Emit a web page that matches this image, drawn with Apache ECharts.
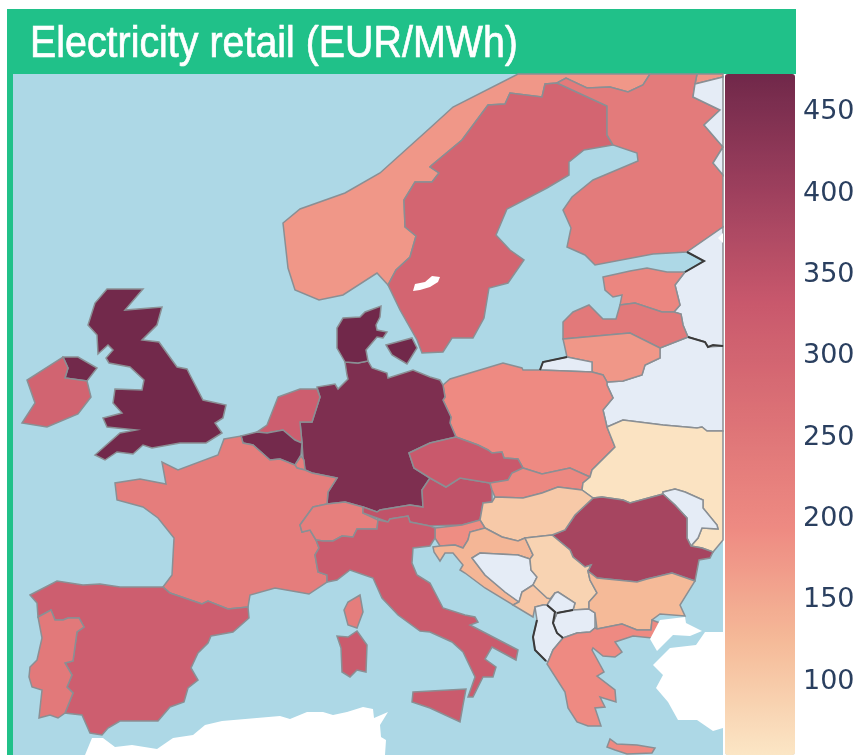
<!DOCTYPE html>
<html>
<head>
<meta charset="utf-8">
<title>Electricity retail (EUR/MWh)</title>
<script src="https://cdn.jsdelivr.net/npm/echarts@6/dist/echarts.min.js"></script>
<style>
  html, body { margin: 0; padding: 0; background: #fff; }
  #chart { width: 859px; height: 755px; }
</style>
</head>
<body>
<div id="chart"></div>
<script>
const countryNames = ["Norway","Sweden","Finland","Estonia","Latvia","Lithuania","Poland","Germany","Denmark","UK","Ireland","Netherlands","Belgium","Luxembourg","France","Switzerland","Austria","Czechia","Slovakia","Ukraine","Romania","Hungary","Slovenia","Italy","Spain","Portugal","Croatia","Serbia","Montenegro","Bulgaria","Greece"];
const countryValues = [175,295,235,205,240,175,195,449,470,468,300,315,465,225,230,225,345,330,200,60,386,100,190,325,315,240,130,85,105,125,195];
const noDataNames = ["Russia","Belarus","Kaliningrad","Moldova","Bosnia","Kosovo","North Macedonia","Albania"];
const blankLandNames = ["Vanern","Turkey","Africa","EdgeNotch"];
const tickValues = [100,150,200,250,300,350,400,450];
const scaleMin = 55;
const scaleMax = 471;
const burgyl = ["#fbe6c5","#f5ba98","#ee8a82","#dc7176","#c8586c","#9c3f5d","#70284a"];

// map outlines in page pixels
const outlines = {
  Norway: [
    [[283,223],[300,209],[345,193],[380,173],[430,128],[453,107],[518,74],[650,74],[643,85],[628,92],[610,87],[587,88],[566,78],[557,83],[545,84],[542,97],[510,93],[505,104],[488,105],[462,140],[432,165],[430,167],[439,173],[432,182],[415,182],[404,200],[405,227],[416,236],[410,257],[396,270],[388,285],[377,273],[343,295],[319,300],[295,290],[288,268]],
    [[697,74],[723,74],[723,77],[695,84]]
  ],
  Sweden: [[[388,285],[396,270],[410,257],[416,236],[405,227],[404,200],[415,182],[432,182],[439,173],[430,167],[432,165],[462,140],[488,105],[505,104],[510,93],[542,97],[545,84],[557,83],[607,106],[607,135],[613,145],[584,150],[569,162],[569,175],[547,188],[507,209],[496,235],[510,250],[524,260],[508,283],[489,288],[484,318],[473,338],[452,338],[443,352],[422,353],[417,340],[400,310]]],
  Vanern: [[[413,291],[415,284],[425,282],[432,276],[440,277],[438,282],[430,287],[420,290]]],
  Finland: [[[557,83],[566,78],[587,88],[610,87],[628,92],[643,85],[650,74],[697,74],[695,84],[693,97],[720,110],[704,125],[723,147],[713,163],[723,175],[723,227],[687,252],[653,254],[595,265],[585,255],[567,247],[571,228],[563,210],[572,197],[593,180],[638,161],[637,153],[613,145],[607,135],[607,106]]],
  Russia: [
    [[695,84],[723,77],[723,175],[713,163],[723,147],[704,125],[720,110],[693,97]],
    [[723,227],[687,252],[704,261],[685,272],[675,285],[680,305],[674,312],[681,314],[683,325],[688,337],[705,342],[708,347],[723,346]]
  ],
  EdgeNotch: [[[718,238],[723,233],[723,243]]],
  Belarus: [[[660,348],[660,358],[645,365],[642,375],[623,381],[607,382],[607,385],[613,398],[603,410],[607,427],[623,420],[663,425],[697,428],[702,427],[707,431],[723,431],[723,346],[708,347],[705,342],[688,337]]],
  Estonia: [[[603,277],[630,271],[647,268],[667,272],[685,272],[675,285],[680,305],[674,312],[662,312],[635,303],[620,305],[622,295],[613,297],[605,290]]],
  Latvia: [[[563,339],[563,322],[573,312],[589,305],[603,319],[616,319],[620,305],[635,303],[662,312],[674,312],[681,314],[683,325],[688,337],[660,348],[630,333]]],
  Lithuania: [[[563,339],[630,333],[660,348],[660,358],[645,365],[642,375],[623,381],[607,382],[603,375],[592,372],[592,362],[567,357]]],
  Kaliningrad: [[[540,370],[543,362],[567,357],[592,362],[592,372]]],
  Poland: [[[443,385],[445,397],[443,400],[451,417],[450,423],[456,437],[478,445],[488,450],[492,453],[502,452],[504,458],[518,459],[523,468],[542,474],[570,468],[590,477],[592,470],[615,447],[607,427],[603,410],[613,398],[607,385],[607,382],[603,375],[592,372],[540,370],[523,370],[522,368],[503,363],[450,379]]],
  Germany: [[[345,362],[358,363],[368,361],[372,368],[387,373],[388,378],[413,370],[430,377],[440,380],[443,385],[445,397],[443,400],[451,417],[450,423],[456,437],[430,443],[409,453],[414,468],[430,478],[422,490],[423,507],[410,505],[380,510],[377,512],[363,507],[345,502],[327,504],[328,492],[337,478],[312,473],[305,470],[303,457],[302,443],[300,422],[312,422],[320,397],[317,387],[335,384],[338,389],[348,379],[347,375]]],
  Denmark: [
    [[345,362],[337,348],[337,328],[343,318],[360,317],[365,312],[381,306],[380,317],[376,325],[377,330],[387,332],[383,338],[377,337],[366,350],[368,361],[358,363]],
    [[386,345],[412,338],[417,348],[407,364],[392,355]]
  ],
  UK: [
    [[107,289],[143,289],[125,310],[162,307],[157,325],[142,340],[159,342],[177,367],[187,369],[190,375],[203,400],[226,405],[223,418],[215,423],[222,433],[206,443],[180,443],[152,448],[143,445],[133,454],[117,452],[105,460],[95,455],[120,433],[136,430],[107,427],[103,418],[122,413],[113,403],[115,389],[142,390],[144,380],[130,367],[109,363],[106,358],[113,350],[108,345],[98,354],[97,335],[88,325],[95,303]],
    [[63,357],[78,357],[97,368],[87,381],[65,378],[68,368]]
  ],
  Ireland: [[[63,357],[68,368],[65,378],[87,381],[91,397],[78,414],[47,427],[22,423],[35,403],[27,380]]],
  Netherlands: [[[278,397],[300,389],[317,389],[320,397],[312,422],[300,422],[302,443],[295,440],[283,430],[267,433],[257,432],[267,425]]],
  Belgium: [[[241,436],[257,432],[267,433],[283,430],[295,440],[302,443],[301,455],[295,465],[280,459],[270,460],[253,445],[243,443]]],
  Luxembourg: [[[301,456],[304,460],[305,470],[297,468],[295,465]]],
  France: [
    [[224,439],[241,436],[243,443],[253,445],[270,460],[280,459],[295,465],[297,468],[305,470],[312,473],[337,478],[328,492],[327,504],[313,507],[300,525],[302,532],[310,530],[316,540],[319,548],[315,555],[318,572],[327,575],[327,582],[309,594],[275,588],[250,595],[248,607],[228,609],[208,601],[202,604],[170,593],[163,587],[172,575],[174,538],[158,518],[143,507],[117,500],[115,483],[140,479],[166,484],[162,462],[178,470],[218,455]],
    [[360,595],[363,612],[357,628],[348,625],[344,610],[348,602]]
  ],
  Switzerland: [[[327,504],[345,502],[363,507],[363,513],[378,520],[377,529],[357,529],[353,537],[342,536],[333,541],[323,541],[316,540],[310,530],[302,532],[300,525],[313,507]]],
  Austria: [[[363,507],[377,512],[380,510],[410,505],[423,507],[422,490],[430,478],[446,487],[460,478],[490,483],[492,490],[492,502],[483,503],[480,520],[462,525],[430,526],[410,522],[408,516],[390,519],[388,522],[377,518],[363,513]]],
  Czechia: [[[456,437],[478,445],[488,450],[492,453],[502,452],[504,458],[518,459],[523,468],[512,473],[508,480],[490,483],[460,478],[446,487],[430,478],[414,468],[409,453],[430,443]]],
  Slovakia: [[[523,468],[542,474],[570,468],[590,477],[583,483],[582,490],[558,487],[542,493],[523,498],[495,497],[492,490],[490,483],[508,480],[512,473]]],
  Ukraine: [[[607,427],[623,420],[663,425],[697,428],[702,427],[707,431],[723,431],[723,540],[713,552],[702,548],[691,546],[698,538],[702,528],[718,529],[717,525],[703,508],[703,500],[685,492],[675,489],[663,492],[663,494],[652,497],[630,503],[623,500],[602,497],[593,498],[582,490],[583,483],[590,477],[592,470],[615,447]]],
  Moldova: [[[663,492],[675,489],[685,492],[703,500],[703,508],[717,525],[718,529],[702,528],[698,538],[691,546],[687,538],[687,518],[675,505],[663,494]]],
  Romania: [[[552,535],[565,530],[575,515],[593,498],[602,497],[623,500],[630,503],[652,497],[663,494],[675,505],[687,518],[687,538],[691,546],[702,548],[713,552],[710,558],[699,560],[695,581],[672,573],[647,579],[637,582],[597,578],[588,571],[591,565],[585,567],[573,557],[570,550]]],
  Hungary: [[[480,520],[483,503],[492,502],[495,497],[523,498],[542,493],[558,487],[582,490],[593,498],[575,515],[565,530],[552,535],[525,538],[518,541],[502,537],[485,528]]],
  Slovenia: [[[435,528],[462,525],[480,520],[485,528],[470,532],[468,540],[463,548],[455,545],[440,546],[435,538]]],
  Italy: [
    [[316,540],[323,541],[333,541],[342,536],[353,537],[357,529],[377,529],[378,520],[388,522],[390,519],[408,516],[410,522],[430,526],[435,528],[435,538],[430,546],[413,548],[412,563],[417,575],[430,583],[443,608],[465,615],[475,617],[478,622],[470,625],[518,650],[516,660],[492,647],[485,659],[496,667],[493,677],[483,677],[473,697],[468,697],[475,677],[463,652],[452,642],[430,632],[420,631],[398,615],[382,598],[373,578],[350,570],[337,580],[327,582],[327,575],[318,572],[315,555],[319,548]],
    [[413,692],[466,689],[463,705],[460,722],[430,708],[412,702]],
    [[357,631],[367,645],[366,672],[357,670],[350,677],[342,672],[341,648],[337,636],[348,637]]
  ],
  Spain: [[[30,595],[57,581],[83,585],[100,584],[120,587],[163,587],[170,593],[202,604],[208,601],[228,609],[248,607],[249,618],[233,632],[211,636],[208,643],[198,653],[191,668],[198,680],[188,688],[184,702],[170,707],[158,721],[120,721],[108,728],[102,735],[90,733],[82,715],[65,713],[73,693],[67,687],[72,675],[65,663],[73,661],[77,632],[84,627],[79,618],[68,618],[63,620],[55,620],[51,610],[38,617],[37,603]]],
  Portugal: [[[38,617],[51,610],[55,620],[63,620],[68,618],[79,618],[84,627],[77,632],[73,661],[65,663],[72,675],[67,687],[73,693],[65,713],[58,718],[50,715],[39,718],[42,690],[32,687],[29,677],[30,667],[37,660],[42,638]]],
  Croatia: [[[485,528],[502,537],[518,541],[525,538],[533,555],[530,559],[518,555],[498,554],[480,553],[472,558],[485,575],[505,592],[519,602],[513,605],[485,588],[465,573],[460,570],[463,565],[453,553],[445,553],[440,561],[434,552],[433,547],[440,546],[455,545],[463,548],[468,540],[470,532]]],
  Bosnia: [[[472,558],[480,553],[498,554],[518,555],[530,559],[531,570],[537,577],[533,585],[522,592],[519,602],[505,592],[485,575]]],
  Serbia: [[[525,538],[552,535],[570,550],[573,557],[585,567],[591,565],[588,571],[590,580],[597,593],[589,602],[589,609],[573,610],[575,603],[558,592],[555,593],[547,603],[533,585],[537,577],[531,570],[530,559],[533,555]]],
  Montenegro: [[[533,585],[547,598],[551,599],[547,605],[543,605],[535,607],[533,617],[513,605],[519,602],[522,592]]],
  Kosovo: [[[558,592],[575,603],[573,610],[557,613],[555,612],[547,605],[551,599],[555,593]]],
  "North Macedonia": [[[557,613],[573,610],[589,609],[595,613],[595,628],[590,632],[577,633],[563,638],[557,633],[553,623]]],
  Albania: [[[535,607],[543,605],[547,605],[555,612],[557,613],[553,623],[557,633],[563,638],[553,650],[548,662],[546,661],[535,650],[533,637],[537,620]]],
  Bulgaria: [[[588,571],[597,578],[637,582],[647,579],[672,573],[695,581],[680,605],[685,616],[660,614],[652,620],[651,630],[637,630],[622,624],[597,629],[595,613],[589,609],[589,602],[597,593],[590,580]]],
  Greece: [
    [[597,629],[622,624],[637,630],[651,630],[652,620],[660,623],[652,638],[633,636],[615,642],[622,652],[615,657],[603,656],[593,648],[592,650],[604,672],[597,676],[615,690],[616,702],[600,697],[605,707],[595,708],[601,726],[588,726],[577,722],[568,708],[565,692],[547,664],[548,662],[553,650],[563,638],[577,633],[590,632],[595,628]],
    [[607,747],[610,739],[617,744],[637,745],[655,748],[652,753],[627,754],[615,750]]
  ],
  Turkey: [
    [[650,639],[660,620],[685,617],[686,623],[702,631],[690,636],[673,635],[657,651]],
    [[723,632],[705,632],[696,645],[670,648],[653,665],[663,675],[656,688],[668,702],[678,720],[697,720],[713,731],[723,728]]
  ],
  Africa: [[[85,755],[92,738],[103,738],[115,747],[132,745],[157,749],[173,738],[193,735],[205,725],[222,721],[280,716],[290,719],[307,712],[323,712],[333,715],[347,712],[363,707],[373,709],[374,718],[388,712],[380,725],[381,737],[386,740],[385,755]]]
};

// borders that come out black in the picture
const darkBorders = [
  [[687,252],[704,261],[685,272]],
  [[688,337],[705,342],[708,347],[713,345],[723,346]],
  [[540,370],[543,362],[567,357]],
  [[537,620],[533,637],[535,650],[546,661]],
  [[547,605],[555,612],[553,623],[557,633],[563,638]],
  [[557,613],[573,610]]
];

const flip = (ring) => ring.map((p) => [p[0], -p[1]]);

const europe = {
  type: "FeatureCollection",
  features: Object.keys(outlines).map((name) => ({
    type: "Feature",
    properties: { name: name },
    geometry: { type: "MultiPolygon", coordinates: outlines[name].map((ring) => [flip(ring)]) }
  }))
};
echarts.registerMap("europe", europe);

const mapBox = {
  left: 13, top: 74, width: 710, height: 681,
  aspectScale: 1,
  boundingCoords: [[13, -74], [723, -755]]
};

const mapData = countryNames.map((name, i) => ({ name: name, value: countryValues[i] }));
noDataNames.forEach((name) => {
  mapData.push({ name: name, itemStyle: { areaColor: "#E5ECF6" } });
});
blankLandNames.forEach((name) => {
  mapData.push({ name: name, itemStyle: { areaColor: "#fff", borderWidth: 0 } });
});

const chart = echarts.init(document.getElementById("chart"), null, { renderer: "canvas" });
chart.setOption({
  animation: false,
  backgroundColor: "#fff",
  graphic: [
    { type: "rect", silent: true, z: -10, shape: { x: 13, y: 74, width: 710, height: 681 }, style: { fill: "#ADD8E6" } },
    { type: "rect", silent: true, z: -10, shape: { x: 7, y: 9, width: 789, height: 65 }, style: { fill: "#20C189" } },
    { type: "rect", silent: true, z: -10, shape: { x: 7, y: 74, width: 6, height: 681 }, style: { fill: "#20C189" } },
    // no condensed font installed, so the heading is squeezed to the reference's width
    {
      type: "text", silent: true, z: 20, x: 30, y: 45, scaleX: 0.895,
      style: {
        text: "Electricity retail (EUR/MWh)",
        fill: "#fff",
        stroke: "#fff",
        lineWidth: 0.7,
        font: '44px "Liberation Sans"',
        verticalAlign: "middle"
      }
    }
  ],
  // the axis only carries the tick labels next to the visualMap bar
  grid: { left: 725, top: 78, width: 70, height: 680 },
  xAxis: { type: "value", show: false },
  yAxis: {
    type: "value",
    position: "right",
    min: scaleMin,
    max: scaleMax,
    axisLine: { show: false },
    axisTick: { show: false },
    splitLine: { show: false },
    axisLabel: {
      customValues: tickValues,
      margin: 8,
      color: "#2a3f5f",
      fontFamily: "DejaVu Sans",
      fontSize: 27
    }
  },
  visualMap: {
    type: "continuous",
    seriesIndex: 0,
    min: scaleMin,
    max: scaleMax,
    left: 725,
    top: 74,
    padding: 0,
    itemWidth: 70,
    itemHeight: 681,
    showLabel: false,
    text: null,
    calculable: false,
    hoverLink: false,
    realtime: false,
    inRange: { color: burgyl }
  },
  geo: Object.assign({
    map: "europe",
    silent: true,
    roam: false,
    itemStyle: { areaColor: "transparent", borderWidth: 0, borderColor: "transparent" },
    emphasis: { disabled: true }
  }, mapBox),
  series: [
    Object.assign({
      type: "map",
      map: "europe",
      silent: true,
      roam: false,
      selectedMode: false,
      label: { show: false },
      emphasis: { disabled: true },
      itemStyle: { borderColor: "#8a8f94", borderWidth: 1.5, areaColor: "#E5ECF6" },
      data: mapData
    }, mapBox),
    {
      type: "lines",
      coordinateSystem: "geo",
      polyline: true,
      silent: true,
      z: 5,
      lineStyle: { color: "#3a3a3a", width: 2, opacity: 1, curveness: 0 },
      data: darkBorders.map((line) => ({ coords: flip(line) }))
    }
  ]
});
</script>
</body>
</html>
